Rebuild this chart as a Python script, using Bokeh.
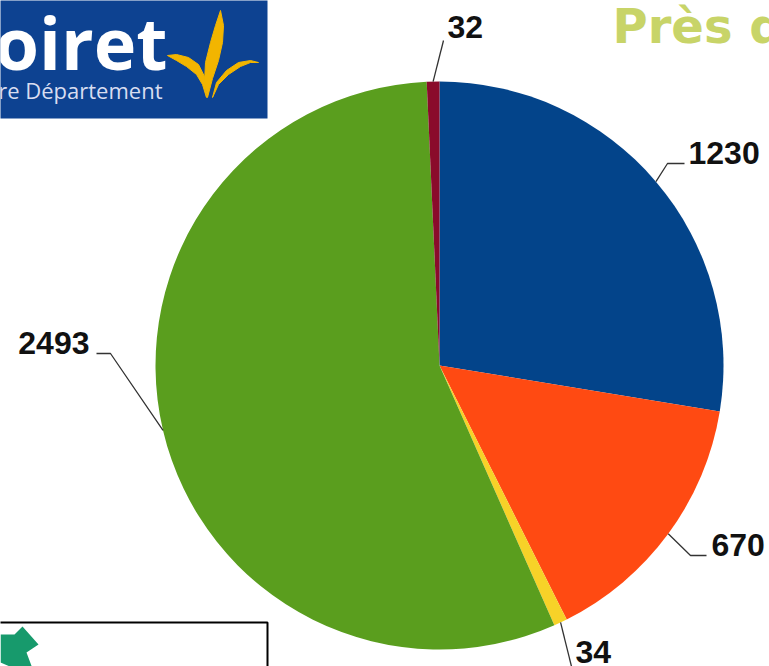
import math
from bokeh.plotting import figure
from bokeh.models import Range1d, ColumnDataSource
from bokeh.core.properties import value
from bokeh.embed import file_html
from bokeh.resources import INLINE

# ---- data ----
categories = ["A", "B", "C", "D", "E"]
values = [1230, 670, 34, 2493, 32]
colors = ["#03448A", "#FF4A12", "#F7D228", "#5A9E1E", "#8A0B2B"]
labels = ["1230", "670", "34", "2493", "32"]

# ---- layout (reference pixel coords, y down) ----
W, H = 769, 666
CX, CY, R = 439, 365, 284
elbows = [(667, 163), (690, 555), (571, 666), (110, 353), (443, 40)]
ends = [(684, 163), (706, 555), (571, 666), (96, 353), (443, 40)]
label_pos = [(688, 152), (711, 544), (575, 651), (89, 342), (447, 26)]
label_align = ["left", "left", "left", "right", "left"]


def Y(y):
    return H - y


p = figure(width=W, height=H, output_backend="svg", toolbar_location=None,
           x_range=Range1d(0, W), y_range=Range1d(0, H), min_border=0)
p.axis.visible = False
p.grid.visible = False
p.outline_line_color = None
p.background_fill_color = "white"
p.border_fill_color = "white"

# ---- pie ----
total = sum(values)
starts, ends_a, mids = [], [], []
cum = 0.0
for v in values:
    a0 = cum / total * 2 * math.pi
    cum += v
    a1 = cum / total * 2 * math.pi
    starts.append(math.pi / 2 - a0)
    ends_a.append(math.pi / 2 - a1)
    mids.append((a0 + a1) / 2)

src = ColumnDataSource(dict(start=starts, end=ends_a, color=colors))
p.wedge(x=CX, y=Y(CY), radius=R, start_angle="start", end_angle="end",
        direction="clock", fill_color="color", line_color=None, source=src)

# ---- leaders and labels ----
for i, lab in enumerate(labels):
    m = mids[i]
    ex, ey = CX + R * math.sin(m), CY - R * math.cos(m)
    xs = [ex, elbows[i][0], ends[i][0]]
    ys = [Y(ey), Y(elbows[i][1]), Y(ends[i][1])]
    p.line(xs, ys, line_color="#333333", line_width=1.3)
    p.text(x=[label_pos[i][0]], y=[Y(label_pos[i][1])], text=[lab],
           text_font=value("Liberation Sans"), text_font_style="bold",
           text_font_size="32px", text_color="#111111",
           text_align=label_align[i], text_baseline="alphabetic")

# ---- title (cut off, as in the slide) ----
p.text(x=[612], y=[Y(25)], text=["Près de"], text_font=value("DejaVu Sans"),
       text_font_style="bold", text_font_size="48px", text_color="#C8D468",
       text_align="left", text_baseline="alphabetic")

# ---- Loiret logo ----
p.quad(left=-5, right=267, top=Y(-5), bottom=Y(118), fill_color="#0D4291", line_color=None)
p.text(x=[167], y=[Y(41)], text=["Loiret"], text_font=value("Open Sans"),
       text_font_style="bold", text_font_size="72px", text_color="white",
       text_align="right", text_baseline="alphabetic")
p.text(x=[162], y=[Y(89)], text=["Notre Département"], text_font=value("Open Sans"),
       text_font_size="22px", text_color="#D8DDF0",
       text_align="right", text_baseline="alphabetic")
# stylised yellow fleur
leaf_xs = [[167, 176, 188, 198, 204, 206, 202, 196, 186, 176],
           [220, 223, 222, 218, 212, 207, 204, 205, 210, 215],
           [258, 250, 240, 228, 218, 212, 216, 226, 238, 250]]
leaf_ys = [[55, 54, 57, 64, 76, 97, 84, 74, 66, 60],
           [10, 25, 42, 60, 78, 97, 82, 62, 42, 25],
           [62, 62, 66, 74, 84, 97, 82, 70, 62, 60]]
p.patches(leaf_xs, [[Y(y) for y in ys] for ys in leaf_ys],
          fill_color="#F2B500", line_color="#F2B500", line_width=1)

# ---- bottom-left box ----
p.quad(left=-2, right=267, top=Y(622), bottom=Y(680), fill_color=None,
       line_color="black", line_width=2)
star_x = [0, 14, 22, 38, 26, 32, 14, 0]
star_y = [634, 634, 626, 644, 652, 668, 668, 662]
p.patch(star_x, [Y(y) for y in star_y], fill_color="#179A6C", line_color=None)

open("out.html", "w").write(file_html(p, INLINE))
